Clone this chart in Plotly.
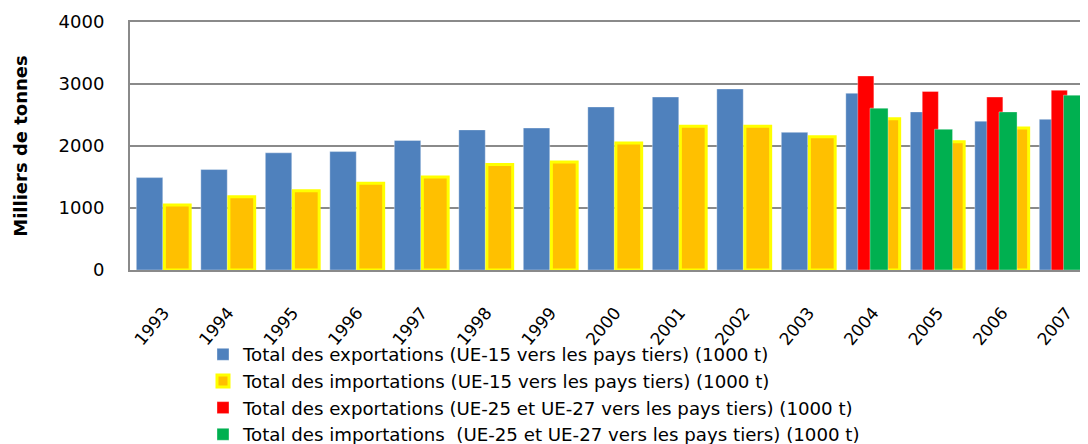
import plotly.graph_objects as go

years = ["1993", "1994", "1995", "1996", "1997", "1998", "1999", "2000",
         "2001", "2002", "2003", "2004", "2005", "2006", "2007"]
years_ue27 = ["2004", "2005", "2006", "2007"]

exports_ue15 = [1490, 1620, 1890, 1910, 2090, 2260, 2290, 2630,
                2790, 2920, 2220, 2850, 2550, 2400, 2430]
imports_ue15 = [1050, 1180, 1280, 1400, 1500, 1700, 1740, 2050,
                2320, 2320, 2150, 2440, 2070, 2290, 2410]
exports_ue27 = [3130, 2880, 2790, 2900]
imports_ue27 = [2610, 2270, 2550, 2820]

names = [
    "Total des exportations (UE-15 vers les pays tiers) (1000 t)",
    "Total des importations (UE-15 vers les pays tiers) (1000 t)",
    "Total des exportations (UE-25 et UE-27 vers les pays tiers) (1000 t)",
    "Total des importations \u00a0(UE-25 et UE-27 vers les pays tiers) (1000 t)",
]

FONT = "DejaVu Sans"
GRID = "#8a8a8a"

fig = go.Figure()
fig.add_trace(go.Bar(
    x=years, y=exports_ue15, name=names[0],
    marker=dict(color="#4F81BD", line=dict(color="rgba(255,255,255,0.35)", width=1)),
    width=0.41, offset=-0.425,
))
fig.add_trace(go.Bar(
    x=years, y=imports_ue15, name=names[1],
    marker=dict(color="#FFC000", line=dict(color="#FFFF00", width=3)),
    width=0.40, offset=0.01,
))
fig.add_trace(go.Bar(
    x=years_ue27, y=exports_ue27, name=names[2],
    marker=dict(color="#FF0000", line=dict(color="rgba(255,255,255,0.35)", width=1)),
    width=0.25, offset=-0.24,
))
fig.add_trace(go.Bar(
    x=years_ue27, y=imports_ue27, name=names[3],
    marker=dict(color="#00B050", line=dict(color="rgba(255,255,255,0.35)", width=1)),
    width=0.28, offset=-0.05,
))

# page body has an 8px margin: the figure is sized/positioned to compensate
fig.update_layout(
    width=1080, height=436,
    margin=dict(l=122, r=0, t=14, b=174, autoexpand=False),
    paper_bgcolor="white", plot_bgcolor="white",
    barmode="overlay",
    font=dict(family=FONT, size=18, color="black"),
    showlegend=True,
    legend=dict(
        x=0.0762, xanchor="left", y=-0.266, yanchor="top",
        font=dict(family=FONT, size=18.2, color="black"),
        bgcolor="rgba(0,0,0,0)", borderwidth=0,
        traceorder="normal",
    ),
    xaxis=dict(
        type="category", categoryorder="array", categoryarray=years,
        range=[-0.523, 14.33],
        showgrid=False, showline=True, linecolor=GRID, linewidth=2,
        mirror=True,
        ticks="", tickangle=-50, ticklabelstandoff=24,
        tickfont=dict(family=FONT, size=17, color="black"),
        fixedrange=True,
    ),
    yaxis=dict(
        range=[0, 4000], tickvals=[0, 1000, 2000, 3000, 4000],
        showgrid=True, gridcolor=GRID, gridwidth=2,
        showline=True, linecolor=GRID, linewidth=2,
        zeroline=False, ticks="", ticklabelstandoff=20,
        tickfont=dict(family=FONT, size=18, color="black"),
        title=dict(text="<b>Milliers de tonnes</b>", standoff=26,
                   font=dict(family=FONT, size=18, color="black")),
        fixedrange=True,
    ),
)

fig.write_html("out.html")
